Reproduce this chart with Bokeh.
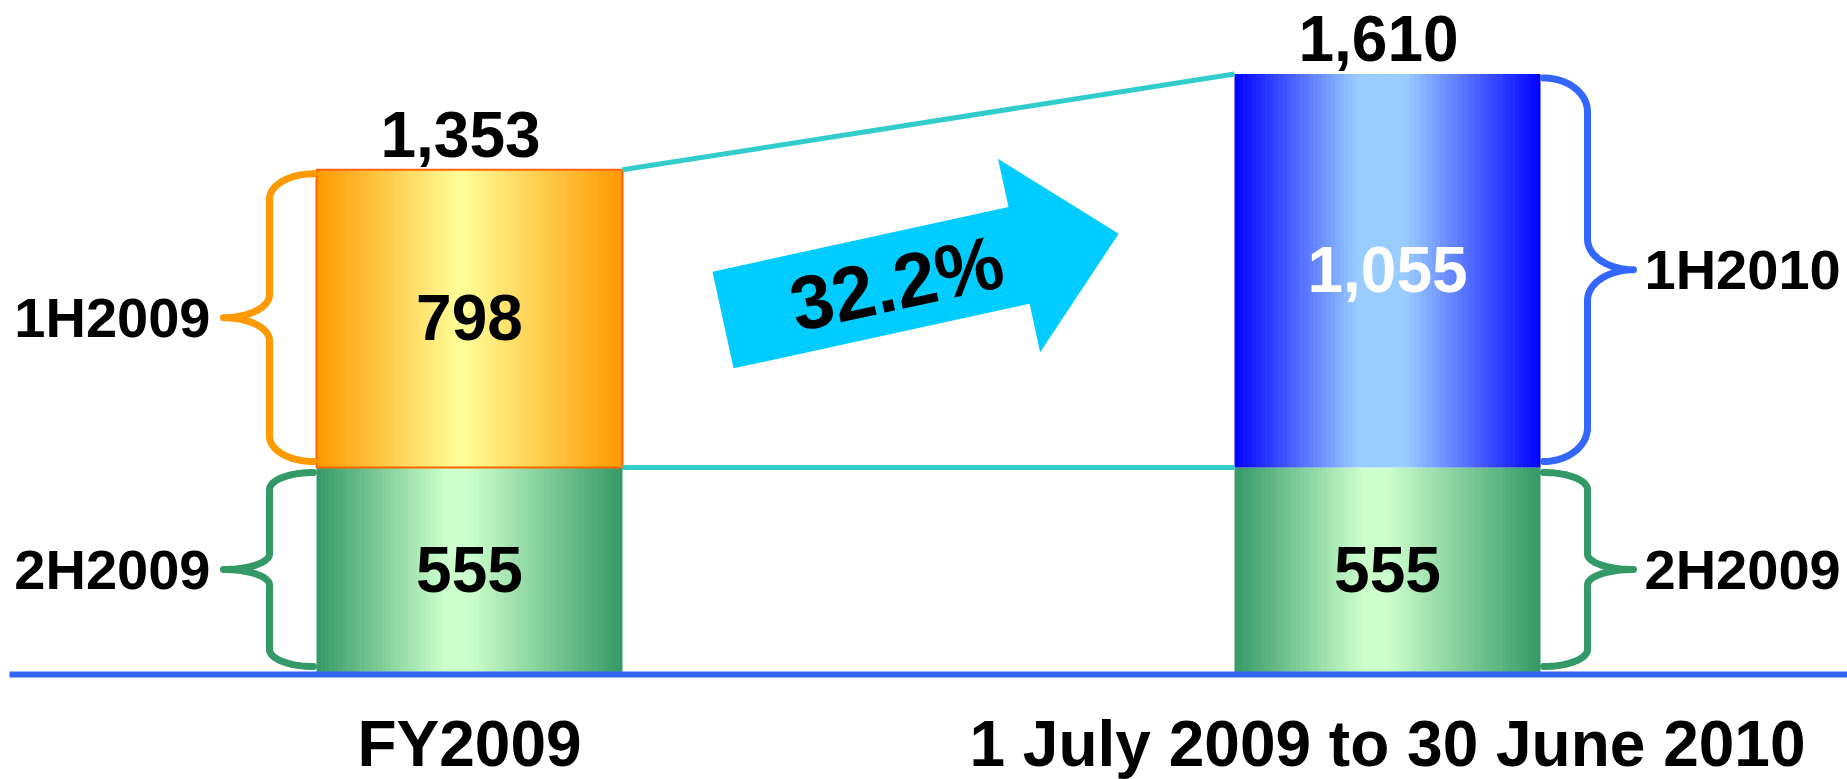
import numpy as np
from bokeh.plotting import figure
from bokeh.models import Range1d
from bokeh.core.properties import value
from bokeh.embed import file_html
from bokeh.resources import INLINE

# ---------------- data ----------------
periods = ["FY2009", "1 July 2009 to 30 June 2010"]
first_half_labels = ["1H2009", "1H2010"]
second_half_labels = ["2H2009", "2H2009"]
first_half = [798, 1055]
second_half = [555, 555]

totals = [a + b for a, b in zip(first_half, second_half)]
growth = (first_half[1] / first_half[0] - 1) * 100

# ---------------- layout ----------------
W, H = 1847, 779
S = 0.373           # pixels per unit
Y0 = 674            # page y of the zero line


def v_of(py):
    """page pixel y -> data value"""
    return (Y0 - py) / S


def py_of(v):
    return Y0 - v * S


FONT = value("Liberation Sans")
BASE_SHIFT = 0.375   # anchor sits this many em above the rendered baseline

p = figure(width=W, height=H, output_backend="svg", toolbar_location=None,
           x_range=Range1d(0, W),
           y_range=Range1d(v_of(H), v_of(0)),
           min_border=0, x_axis_location=None, y_axis_location=None)
p.grid.visible = False
p.outline_line_color = None
p.background_fill_color = "white"
p.border_fill_color = "white"

centers = [469, 1387]
bar_w = 306

top_stops = [
    [(0.0, "#FF9900"), (0.47, "#FFFF99"), (1.0, "#FF9900")],
    [(0.0, "#0000FF"), (0.40, "#99CCFF"), (0.56, "#99CCFF"), (1.0, "#0000FF")],
]
bottom_stops = [(0.0, "#339966"), (0.42, "#CCFFCC"), (0.50, "#CCFFCC"), (1.0, "#339966")]


def hex2rgb(h):
    h = h.lstrip("#")
    return np.array([int(h[i:i + 2], 16) for i in (0, 2, 4)], dtype=float)


def grad_color(stops, f):
    for (f0, c0), (f1, c1) in zip(stops[:-1], stops[1:]):
        if f0 <= f <= f1:
            t = 0 if f1 == f0 else (f - f0) / (f1 - f0)
            c = hex2rgb(c0) * (1 - t) + hex2rgb(c1) * t
            return "#%02x%02x%02x" % tuple(int(round(x)) for x in c)
    return stops[-1][1]


N = 70
L, R, B, T, C = [], [], [], [], []
for i, cx in enumerate(centers):
    left = cx - bar_w / 2
    dx = bar_w / N
    for k in range(N):
        f = (k + 0.5) / N
        l = left + k * dx
        r = l + dx + (0.6 if k < N - 1 else 0)
        L.append(l); R.append(r); B.append(0); T.append(second_half[i])
        C.append(grad_color(bottom_stops, f))
        L.append(l); R.append(r); B.append(second_half[i]); T.append(totals[i])
        C.append(grad_color(top_stops[i], f))
p.quad(left=L, right=R, bottom=B, top=T, fill_color=C, line_color=None)

# orange outline of the first upper segment
p.quad(left=[centers[0] - bar_w / 2], right=[centers[0] + bar_w / 2],
       bottom=[second_half[0]], top=[totals[0]],
       fill_alpha=0, line_color="#FF6600", line_width=2)

# connector lines
p.segment(x0=[centers[0] + bar_w / 2] * 2, y0=[totals[0], second_half[0]],
          x1=[centers[1] - bar_w / 2] * 2, y1=[totals[1], second_half[1]],
          line_color="#33CCCC", line_width=5)


# braces
def brace(x_end, side, top_py, bot_py):
    h = bot_py - top_py
    c = 0.088 * h
    ct = 0.08 * h
    a1, a2 = 44, 46
    xv = x_end + side * a1
    xt = xv + side * a2
    mid = (top_py + bot_py) / 2
    t = np.linspace(0, np.pi / 2, 24)
    x1 = x_end + side * a1 * np.sin(t)
    y1 = top_py + c - c * np.cos(t)
    x2 = xt - side * a2 * np.cos(t)
    y2 = mid - ct + ct * np.sin(t)
    xu = np.concatenate([x1, x2])
    yu = np.concatenate([y1, y2])
    xs = np.concatenate([xu, xu[::-1]])
    ys = np.concatenate([yu, (top_py + bot_py - yu)[::-1]])
    return list(xs), [v_of(y) for y in ys]


bx, by, bc = [], [], []
brace_cols_top = ["#FF9900", "#3366FF"]
for i, cx in enumerate(centers):
    side = -1 if i == 0 else 1
    x_end = cx + side * (bar_w / 2 + 3)
    xs, ys = brace(x_end, side, py_of(totals[i]) + 4, py_of(second_half[i]) - 6)
    bx.append(xs); by.append(ys); bc.append(brace_cols_top[i])
    xs, ys = brace(x_end, side, py_of(second_half[i]) + 5, py_of(0) - 8)
    bx.append(xs); by.append(ys); bc.append("#339966")
p.multi_line(xs=bx, ys=by, line_color=bc, line_width=7,
             line_cap="round", line_join="round")

# baseline
p.segment(x0=[9], y0=[0], x1=[W], y1=[0], line_color="#3366FF", line_width=6)

# growth arrow
theta = np.deg2rad(12.3)
tail = np.array([722.5, 319.5])
u = np.array([np.cos(theta), -np.sin(theta)])
up = np.array([-np.sin(theta), -np.cos(theta)])
Lr, hl, sw, hw = 405, 102, 99, 198
base = tail + u * (Lr - hl)
pts = [tail + up * sw / 2, base + up * sw / 2, base + up * hw / 2, tail + u * Lr,
       base - up * hw / 2, base - up * sw / 2, tail - up * sw / 2]
p.patch(x=[q[0] for q in pts], y=[v_of(q[1]) for q in pts],
        fill_color="#00CCFF", line_color=None)

fs_arrow = 76
ctr = tail + u * 178 + np.array([0, 2])     # ink centre of the label
bl = ctr - up * (0.358 - BASE_SHIFT) * fs_arrow
p.text(x=[bl[0]], y=[v_of(bl[1])], text=[f"{growth:.1f}%"],
       angle=12.3, angle_units="deg",
       text_font=FONT, text_font_style="bold", text_font_size=f"{fs_arrow}px",
       text_align="center", text_baseline="alphabetic", text_color="black")


def anchor(baseline_py, fs):
    return v_of(baseline_py - BASE_SHIFT * fs)


FS = 64
# totals above bars (baseline 11px above top)
p.text(x=[c - 9 for c in centers], y=[anchor(py_of(t) - 11, FS) for t in totals],
       text=[f"{t:,}" for t in totals],
       text_font=FONT, text_font_style="bold", text_font_size=f"{FS}px",
       text_align="center", text_baseline="alphabetic", text_color="black")

# segment values (cap centre at segment middle)
p.text(x=centers, y=[anchor(py_of((b + t) / 2) + 23, FS) for b, t in zip(second_half, totals)],
       text=[f"{v:,}" for v in first_half],
       text_font=FONT, text_font_style="bold", text_font_size=f"{FS}px",
       text_align="center", text_baseline="alphabetic", text_color=["black", "white"])

p.text(x=centers, y=[anchor(py_of(v / 2) + 23, FS) for v in second_half],
       text=[f"{v:,}" for v in second_half],
       text_font=FONT, text_font_style="bold", text_font_size=f"{FS}px",
       text_align="center", text_baseline="alphabetic", text_color="black")

# category labels
p.text(x=centers, y=[anchor(py_of(0) + 93, FS)] * 2, text=periods,
       text_font=FONT, text_font_style="bold", text_font_size=f"{FS}px",
       text_align="center", text_baseline="alphabetic", text_color="black")

# side labels
FS2 = 56
p.text(x=[210, 210],
       y=[anchor(py_of((second_half[0] + totals[0]) / 2) + 20, FS2),
          anchor(py_of(second_half[0] / 2) + 20, FS2)],
       text=[first_half_labels[0], second_half_labels[0]],
       text_font=FONT, text_font_style="bold", text_font_size=f"{FS2}px",
       text_align="right", text_baseline="alphabetic", text_color="black")
p.text(x=[1644, 1644],
       y=[anchor(py_of((second_half[1] + totals[1]) / 2) + 20, FS2),
          anchor(py_of(second_half[1] / 2) + 20, FS2)],
       text=[first_half_labels[1], second_half_labels[1]],
       text_font=FONT, text_font_style="bold", text_font_size=f"{FS2}px",
       text_align="left", text_baseline="alphabetic", text_color="black")

open("out.html", "w").write(file_html(p, INLINE))
